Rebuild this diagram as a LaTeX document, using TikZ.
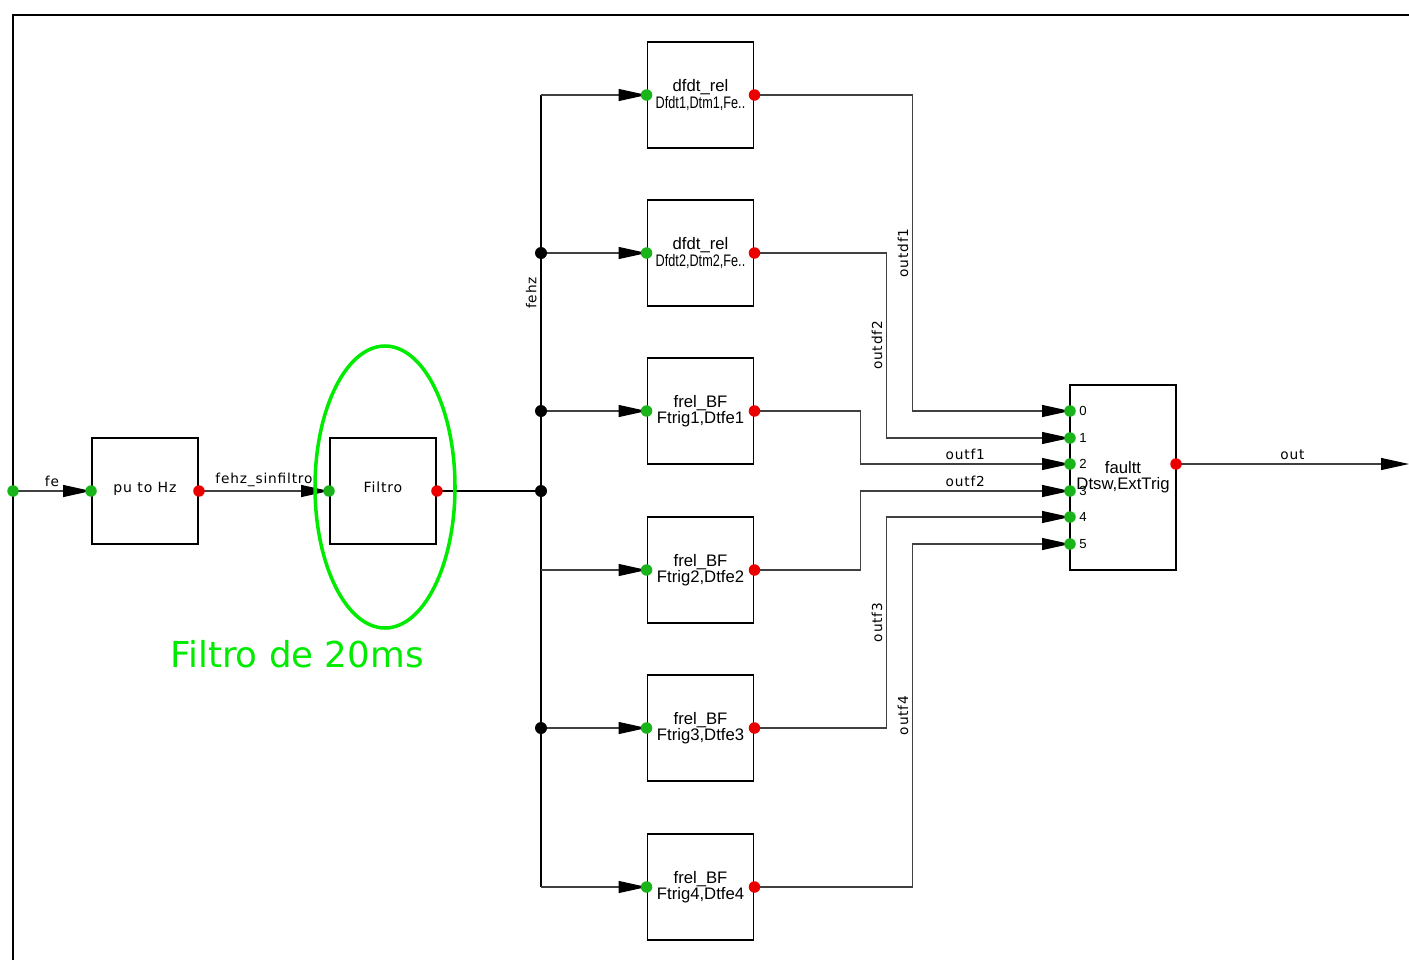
\documentclass[tikz,border=0pt]{standalone}
\usepackage{fontspec}
\setmainfont{Liberation Sans}
\newfontfamily\wirefont{DejaVu Sans}[LetterSpace=6]
\newfontfamily\notefont{DejaVu Sans}
\usetikzlibrary{arrows.meta,calc}
\definecolor{portgreen}{RGB}{25,180,25}
\definecolor{portred}{RGB}{235,0,0}
\definecolor{markgreen}{RGB}{0,235,0}

\begin{document}
\begin{tikzpicture}[x=0.02cm, y=-0.02cm, >={Triangle[length=0.56cm,width=0.24cm,color=black]},
    blk/.style={draw, line width=1.1pt, minimum width=2.12cm, minimum height=2.12cm, inner sep=0pt, align=center, font=\fontsize{9.5}{9.2}\selectfont},
    wire/.style={draw=black!75, line width=0.6pt},
    bus/.style={draw=black, line width=1.1pt},
    wlab/.style={font=\wirefont\fontsize{7.8}{8}\selectfont, inner sep=2pt},
    inp/.style={circle, fill=portgreen, inner sep=0pt, minimum size=0.23cm},
    outp/.style={circle, fill=portred, inner sep=0pt, minimum size=0.23cm},
    jn/.style={circle, fill=black, inner sep=0pt, minimum size=0.24cm}]
    \useasboundingbox (0,0) rectangle (1409,960);
    \draw[line width=1.1pt] (13,960) -- (13,15) -- (1409,15);

    % blocks
    \node[blk] (pu) at (145,491) {\raisebox{4pt}{\wirefont\fontsize{8}{8}\selectfont pu to Hz}};
    \node[blk] (filtro) at (383,491) {\raisebox{4pt}{\wirefont\fontsize{8}{8}\selectfont Filtro}};
    \node[blk] (b1) at (700.5,95) {dfdt\_rel\\\scalebox{0.76}[1]{Dfdt1,Dtm1,Fe..}};
    \node[blk] (b2) at (700.5,253) {dfdt\_rel\\\scalebox{0.76}[1]{Dfdt2,Dtm2,Fe..}};
    \node[blk] (b3) at (700.5,411) {frel\_BF\\Ftrig1,Dtfe1};
    \node[blk] (b4) at (700.5,570) {frel\_BF\\Ftrig2,Dtfe2};
    \node[blk] (b5) at (700.5,728) {frel\_BF\\Ftrig3,Dtfe3};
    \node[blk] (b6) at (700.5,887) {frel\_BF\\Ftrig4,Dtfe4};
    \node[blk, minimum height=3.7cm] (fault) at (1123,477.5) {\raisebox{-1pt}{faultt}\\\raisebox{-1pt}{Dtsw,ExtTrig}};

    \coordinate (in) at (13,491);
    \coordinate (j) at (541,491);
    \coordinate (pout) at (1176,464);
    \coordinate (outend) at (1409,464);
    \foreach \i/\y in {0/411,1/438,2/464,3/491,4/517,5/544} {
        \coordinate (p\i) at (1070,\y);
        \node[anchor=west, inner sep=0pt, xshift=0.18cm, font=\fontsize{7.5}{7.5}\selectfont] (n\i) at (p\i) {\i};
    }

    % wires
    \draw[wire,->] (in) -- node[wlab,above] {fe} (pu.west);
    \draw[wire,->] (pu.east) -- node[wlab,above] {fehz\_sinfiltro} (filtro.west);
    \draw[bus] (filtro.east) -- (j);
    \draw[bus] (b1.west -| j) -- node[wlab, pos=0.25, anchor=south, rotate=90] {fehz} (b6.west -| j);
    \foreach \b in {b1,b2,b3,b4,b5,b6}
        \draw[wire,->] (\b.west -| j) -- (\b.west);
    \draw[wire,->] (b1.east) -- ++(158,0) |- node[wlab, pos=0.25, anchor=south, rotate=90] {outdf1} (p0);
    \draw[wire,->] (b2.east) -- ++(132,0) |- node[wlab, pos=0.25, anchor=south, rotate=90] {outdf2} (p1);
    \draw[wire,->] (b3.east) -- ++(106,0) |- node[wlab, pos=0.75, above] {outf1} (p2);
    \draw[wire,->] (b4.east) -- ++(106,0) |- node[wlab, pos=0.75, above] {outf2} (p3);
    \draw[wire,->] (b5.east) -- ++(132,0) |- node[wlab, pos=0.25, anchor=south, rotate=90] {outf3} (p4);
    \draw[wire,->] (b6.east) -- ++(158,0) |- node[wlab, pos=0.25, anchor=south, rotate=90] {outf4} (p5);
    \draw[wire,->] (pout) -- node[wlab,above] {out} (outend);

    % ports and junctions
    \foreach \b in {pu,filtro,b1,b2,b3,b4,b5,b6} {
        \node[inp] (i\b) at (\b.west) {};
        \node[outp] (o\b) at (\b.east) {};
    }
    \foreach \i in {0,...,5}
        \node[inp] (ip\i) at (p\i) {};
    \node[inp] (iin) at (in) {};
    \node[outp] (ofault) at (pout) {};
    \foreach \b in {b2,b3,b5}
        \node[jn] (d\b) at (\b.west -| j) {};
    \node[jn] (dj) at (j) {};

    % marking
    \draw[markgreen, line width=2pt] (385,487) ellipse [x radius=70, y radius=141];
    \node[text=markgreen, font=\notefont\fontsize{20.3}{20}\selectfont] (note) at (297,654) {Filtro de 20ms};
\end{tikzpicture}
\end{document}
